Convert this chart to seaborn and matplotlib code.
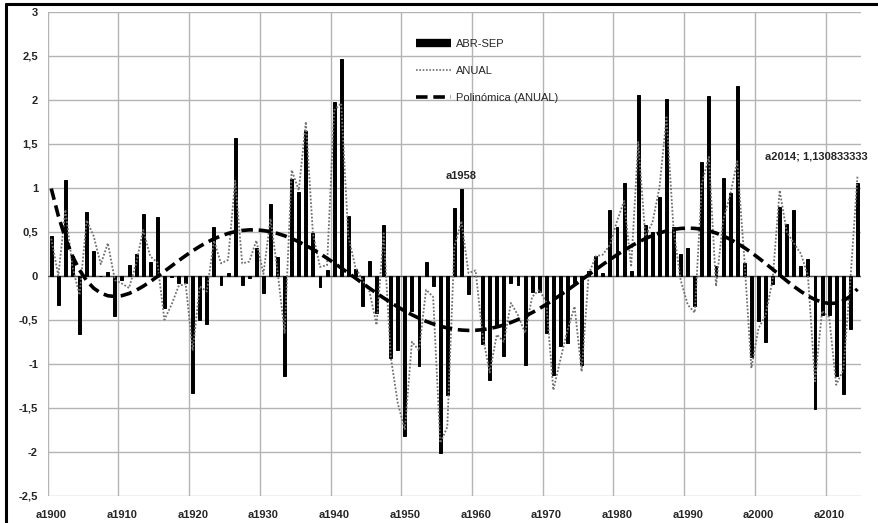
import numpy as np
import pandas as pd
import matplotlib
matplotlib.use("Agg")
import matplotlib.pyplot as plt
import matplotlib.ticker as mtick
from matplotlib.lines import Line2D
import seaborn as sns

sns.set_style("white")
plt.rcParams['font.family'] = ['Liberation Sans', 'DejaVu Sans']

# Data
years = list(range(1900, 2015))

abr_sep = [
    0.45, -0.33, 1.09, 0.22, -0.66, 0.72, 0.28, 0.00, 0.04, -0.46,
    -0.05, 0.12, 0.25, 0.70, 0.16, 0.67, -0.37, -0.01, -0.08, -0.08,
    -1.33, -0.50, -0.55, 0.55, -0.10, 0.03, 1.57, -0.10, -0.03, 0.31,
    -0.20, 0.81, 0.21, -1.14, 1.10, 0.95, 1.65, 0.49, -0.13, 0.07,
    1.97, 2.46, 0.68, 0.08, -0.34, 0.17, -0.42, 0.58, -0.94, -0.84,
    -1.82, -0.40, -1.03, 0.16, -0.12, -2.02, -1.36, 0.77, 0.98, -0.21,
    0.00, -0.78, -1.19, -0.58, -0.91, -0.08, -0.11, -1.01, -0.18, -0.18,
    -0.65, -1.13, -0.80, -0.77, -0.08, -1.02, 0.05, 0.22, 0.03, 0.75,
    0.55, 1.05, 0.05, 2.05, 0.58, 0.50, 0.90, 2.01, 0.55, 0.25,
    0.32, -0.34, 1.29, 2.04, 0.11, 1.11, 0.94, 2.16, 0.15, -0.92,
    -0.52, -0.75, -0.09, 0.78, 0.59, 0.75, 0.11, 0.19, -1.52, -0.45,
    -0.45, -1.14, -1.34, -0.60, 1.05,
]

anual = [
    0.42, 0.00, 0.75, 0.10, -0.22, 0.63, 0.45, 0.13, 0.37, -0.05,
    -0.09, -0.14, 0.14, 0.52, 0.22, 0.15, -0.50, -0.33, -0.12, -0.09,
    -0.85, -0.12, -0.18, 0.40, 0.14, 0.18, 1.08, 0.14, 0.16, 0.40,
    0.02, 0.65, 0.05, -0.65, 1.20, 0.97, 1.75, 0.48, 0.10, 0.12,
    1.88, 1.96, 0.45, 0.10, -0.05, -0.18, -0.56, 0.48, -0.92, -1.45,
    -1.75, -0.75, -0.85, -0.16, -0.24, -1.90, -1.72, 0.33, 0.62, 0.03,
    0.06, -0.68, -1.10, -0.67, -0.75, -0.31, -0.45, -0.65, -0.24, -0.16,
    -0.30, -1.30, -0.95, -0.62, -0.35, -1.09, 0.02, 0.22, 0.24, 0.35,
    0.62, 0.85, 0.10, 1.52, 0.45, 0.60, 1.00, 1.80, 0.52, -0.05,
    -0.33, -0.42, 1.05, 1.35, -0.12, 0.62, 0.92, 1.30, 0.20, -1.05,
    -0.60, -0.45, -0.05, 0.97, 0.50, 0.37, 0.25, 0.00, -1.20, -0.40,
    -0.47, -1.24, -1.07, -0.05, 1.13,
]

df = pd.DataFrame({"year": years, "ABR-SEP": abr_sep, "ANUAL": anual})
n = len(df)
pos = np.arange(n)

# 6th order polynomial trendline of ANUAL (like Excel's "Polinómica")
xs = (pos + 1) / n
coefs = np.polyfit(xs, df["ANUAL"], 6)
trend = np.polyval(coefs, xs)

fig = plt.figure(figsize=(8.79, 5.23), dpi=100)
ax = fig.add_axes([0.0543, 0.0522, 0.9252, 0.9254])

sns.barplot(data=df, x="year", y="ABR-SEP", color="black", width=0.42,
            saturation=1, edgecolor="black", linewidth=0.7, ax=ax, zorder=3)
ax.plot(pos, df["ANUAL"], linestyle=(0, (1, 1)), color="#707070",
        linewidth=1.3, zorder=4)
ax.plot(pos, trend, linestyle=(0, (3.2, 1.6)), color="black",
        linewidth=2.6, zorder=5)
ax.axhline(0, color="#555555", linewidth=1.0, zorder=2)

# Axes
ax.set_xlim(-0.5, n - 0.5)
ax.set_ylim(-2.5, 3)
ax.set_xlabel("")
ax.set_ylabel("")
ax.set_yticks(np.arange(-2.5, 3.01, 0.5))
ax.yaxis.set_major_formatter(
    mtick.FuncFormatter(lambda v, p: f"{v:g}".replace(".", ",") if abs(v) > 1e-9 else "0"))
label_pos = np.arange(0, n, 10)
ax.set_xticks(label_pos)
ax.set_xticklabels([f"a{years[i]}" for i in label_pos])
ax.set_xticks(np.arange(-0.5, n, 10), minor=True)

ax.grid(axis="y", which="major", color="#b4b4b4", linewidth=1.0, zorder=0)
ax.grid(axis="x", which="minor", color="#b4b4b4", linewidth=1.0, zorder=0)
ax.grid(axis="x", which="major", visible=False)
ax.set_axisbelow(True)
for s in ax.spines.values():
    s.set_visible(False)

ax.tick_params(axis="x", which="major", length=0, pad=10, labelsize=8)
ax.tick_params(axis="x", which="minor", length=5, color="#b4b4b4", width=1.0)
ax.tick_params(axis="y", length=5, color="#b4b4b4", width=1.0, pad=2, labelsize=8)
for lbl in ax.get_xticklabels() + ax.get_yticklabels():
    lbl.set_fontweight("bold")

# Data labels
ax.text(58, 1.13, "a1958", ha="center", va="center", fontsize=8,
        fontweight="bold", zorder=6)
ax.text(100.9, 1.35, "a2014; 1,130833333", ha="left", va="center",
        fontsize=8, fontweight="bold", clip_on=False, zorder=6)

# Legend
handles = [
    Line2D([], [], color="black", linewidth=6, solid_capstyle="butt"),
    Line2D([], [], color="#707070", linewidth=1.2, linestyle=(0, (1, 1))),
    Line2D([], [], color="black", linewidth=2.6, linestyle=(0, (3.2, 1.6))),
]
ax.legend(handles, ["ABR-SEP", "ANUAL", "Polinómica (ANUAL)"],
          loc="upper left", bbox_to_anchor=(0.44, 0.965), frameon=False,
          fontsize=8, handlelength=3.2, handletextpad=0.4, labelspacing=1.55)

# Outer chart border (left and top visible in the crop)
fig.add_artist(Line2D([0.0065, 0.0065], [0, 0.992], transform=fig.transFigure,
                      color="black", linewidth=2.2))
fig.add_artist(Line2D([0.0065, 1.0], [0.992, 0.992], transform=fig.transFigure,
                      color="black", linewidth=2.2))

fig.savefig("out.png", dpi=100)
